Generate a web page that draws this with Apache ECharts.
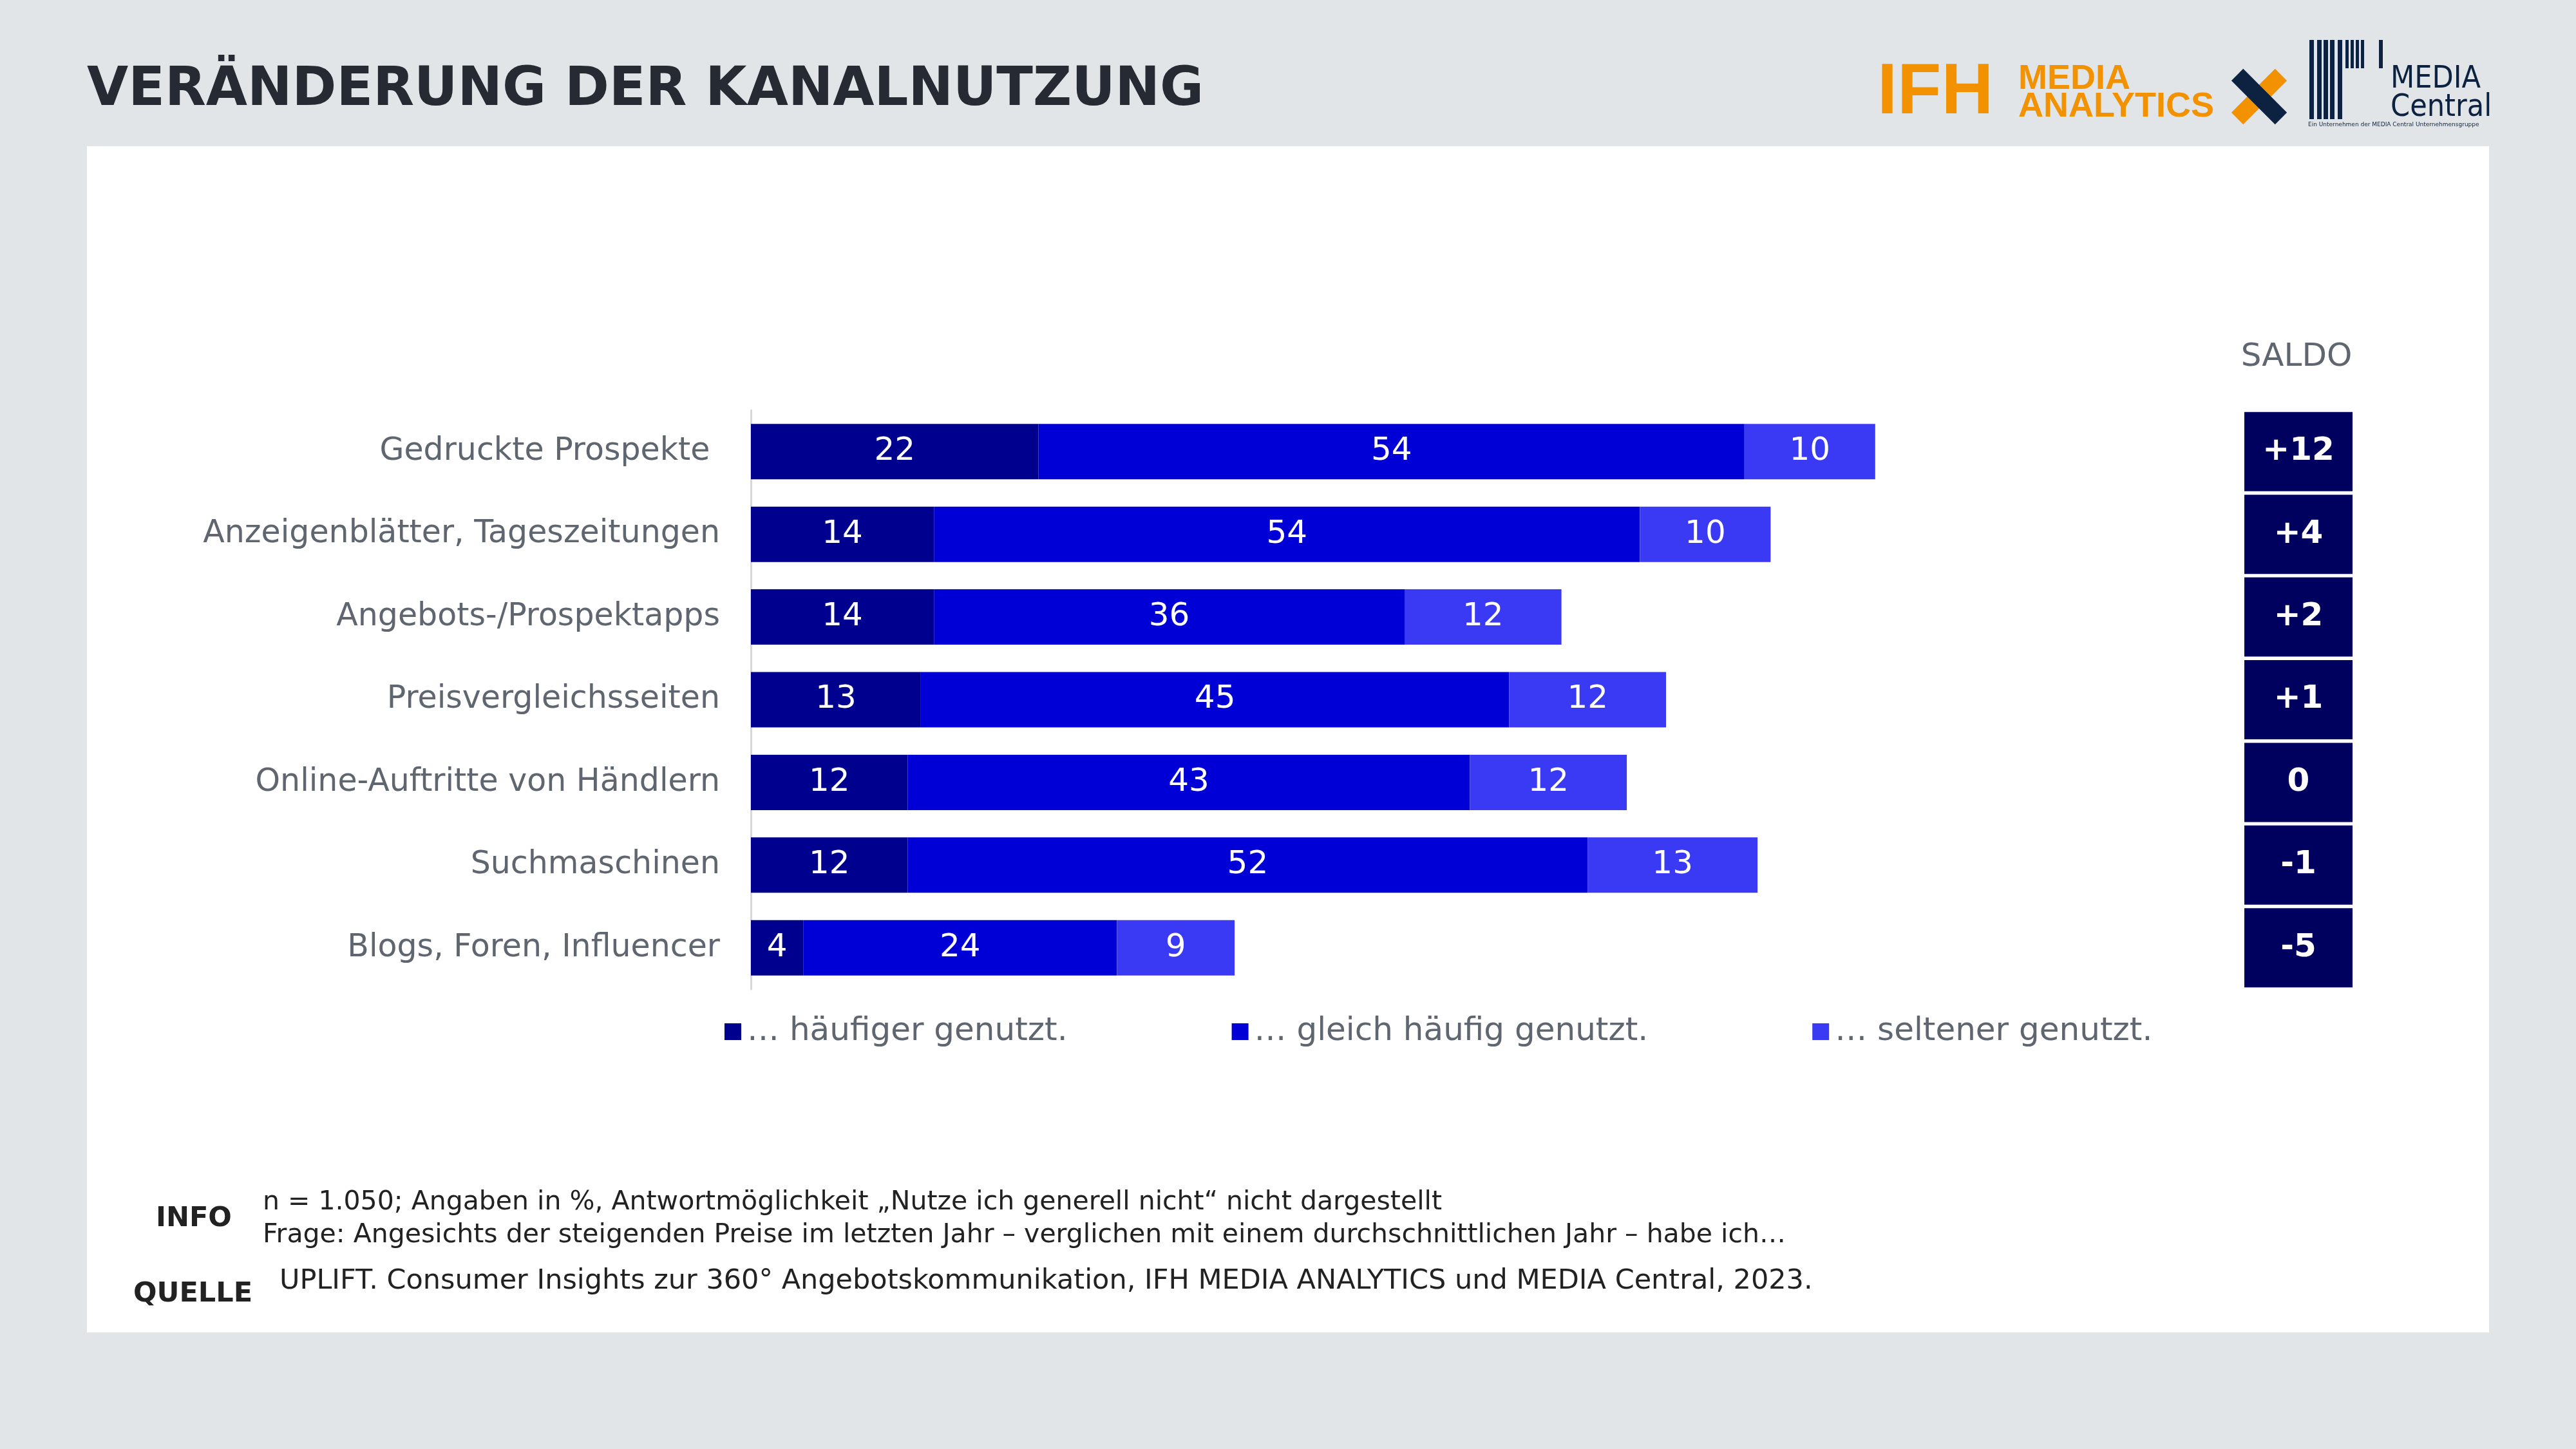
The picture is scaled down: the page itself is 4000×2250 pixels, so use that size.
<!DOCTYPE html>
<html><head><meta charset="utf-8">
<script src="https://cdn.jsdelivr.net/npm/echarts@6/dist/echarts.min.js"></script>
<style>html,body{margin:0;padding:0;background:#e1e5e8}#c{width:4000px;height:2250px}</style>
</head><body><div id="c"></div>
<script>
const categories = ['Gedruckte Prospekte ', 'Anzeigenblätter, Tageszeitungen', 'Angebots-/Prospektapps', 'Preisvergleichsseiten', 'Online-Auftritte von Händlern', 'Suchmaschinen', 'Blogs, Foren, Influencer'];
const haeufiger = [22, 14, 14, 13, 12, 12, 4];
const gleich = [54, 54, 36, 45, 43, 52, 24];
const seltener = [10, 10, 12, 12, 12, 13, 9];
const saldo = ['+12', '+4', '+2', '+1', '0', '-1', '-5'];
const legendNames = ['… häufiger genutzt.', '… gleich häufig genutzt.', '… seltener genutzt.'];
const colors = ['#00008f', '#0000d6', '#3a3af5'];

const font = 'DejaVu Sans, Verdana, sans-serif';
const chart = echarts.init(document.getElementById('c'));
const barLabel = { show: true, position: 'inside', color: '#fff', fontSize: 50, fontFamily: font };
const mk = (i, data) => ({
  name: legendNames[i], type: 'bar', stack: 'a', data, barWidth: 86,
  itemStyle: { color: colors[i] }, label: barLabel, xAxisIndex: 0, yAxisIndex: 0
});

chart.setOption({
  backgroundColor: '#e1e5e8',
  animation: false,
  grid: [
    { left: 1166, width: 2030, top: 637, height: 899 },
    { left: 3485, width: 168, top: 637, height: 899 }
  ],
  xAxis: [
    { type: 'value', min: 0, max: 100, show: false, gridIndex: 0 },
    { type: 'value', min: 0, max: 1, show: false, gridIndex: 1 }
  ],
  yAxis: [
    { type: 'category', data: categories, inverse: true, gridIndex: 0,
      axisLine: { show: true, lineStyle: { color: '#d8d8d8', width: 3 } }, axisTick: { show: false },
      axisLabel: { color: '#5f6670', fontSize: 49, fontFamily: font, margin: 48 } },
    { type: 'category', data: categories, inverse: true, gridIndex: 1, show: false }
  ],
  legend: {
    data: legendNames, left: 1120, top: 1572, itemGap: 255, itemWidth: 26, itemHeight: 26,
    icon: 'rect', textStyle: { color: '#5f6670', fontSize: 50, fontFamily: font, padding: [0, 0, 0, 4] }
  },
  series: [
    mk(0, haeufiger), mk(1, gleich), mk(2, seltener),
    { type: 'bar', xAxisIndex: 1, yAxisIndex: 1, barWidth: 123, silent: true,
      data: saldo.map(s => ({ value: 1, name: s })),
      itemStyle: { color: '#00005e' },
      label: { show: true, position: 'inside', formatter: p => p.name, color: '#fff',
        fontSize: 50, fontWeight: 'bold', fontFamily: font } }
  ],
  graphic: [
    { type: 'rect', z: -10, shape: { x: 135, y: 227, width: 3730, height: 1842 }, style: { fill: '#fff' } },
    { type: 'text', left: 135, top: 100, style: { text: 'VERÄNDERUNG DER KANALNUTZUNG', fill: '#262b33',
      fontSize: 83, fontWeight: 'bold', fontFamily: font } },
    { type: 'text', x: 3566, y: 555, style: { text: 'SALDO', fill: '#5f6670', fontSize: 50, fontFamily: font,
      align: 'center', verticalAlign: 'middle' } },
    // footer
    { type: 'text', x: 242, y: 1893, style: { text: 'INFO', fill: '#222', fontSize: 43, fontWeight: 'bold', fontFamily: font, verticalAlign: 'middle' } },
    { type: 'text', x: 408, y: 1867, style: { text: 'n = 1.050; Angaben in %, Antwortmöglichkeit „Nutze ich generell nicht“ nicht dargestellt', fill: '#222', fontSize: 41, fontFamily: font, verticalAlign: 'middle' } },
    { type: 'text', x: 408, y: 1918, style: { text: 'Frage: Angesichts der steigenden Preise im letzten Jahr – verglichen mit einem durchschnittlichen Jahr – habe ich…', fill: '#222', fontSize: 41, fontFamily: font, verticalAlign: 'middle' } },
    { type: 'text', x: 207, y: 2010, style: { text: 'QUELLE', fill: '#222', fontSize: 43, fontWeight: 'bold', fontFamily: font, verticalAlign: 'middle' } },
    { type: 'text', x: 434, y: 1990, style: { text: 'UPLIFT. Consumer Insights zur 360° Angebotskommunikation, IFH MEDIA ANALYTICS und MEDIA Central, 2023.', fill: '#222', fontSize: 43, fontFamily: font, verticalAlign: 'middle' } },
    // logo
    { type: 'text', x: 2915, y: 145, style: { text: 'IFH', fill: '#f39200', fontSize: 112, fontWeight: 'bold', fontFamily: 'Liberation Sans, sans-serif', verticalAlign: 'middle' } },
    { type: 'text', x: 3134, y: 123, style: { text: 'MEDIA', fill: '#f39200', fontSize: 54, fontWeight: 'bold', fontFamily: 'Liberation Sans, sans-serif', verticalAlign: 'middle' } },
    { type: 'text', x: 3134, y: 166, style: { text: 'ANALYTICS', fill: '#f39200', fontSize: 54, fontWeight: 'bold', fontFamily: 'Liberation Sans, sans-serif', verticalAlign: 'middle' } },
    { type: 'rect', x: 3508, y: 150, rotation: Math.PI / 4, shape: { x: -48, y: -13, width: 96, height: 26 }, style: { fill: '#f39200' } },
    { type: 'rect', x: 3508, y: 150, rotation: -Math.PI / 4, shape: { x: -48, y: -13, width: 96, height: 26 }, style: { fill: '#0d2240' } },
    ...[0, 12, 22, 32, 44].map(dx => ({ type: 'rect', shape: { x: 3586 + dx, y: 62, width: 7, height: 123 }, style: { fill: '#0d2240' } })),
    ...[56, 64, 72, 80].map(dx => ({ type: 'rect', shape: { x: 3586 + dx, y: 62, width: 5, height: 44 }, style: { fill: '#0d2240' } })),
    { type: 'rect', shape: { x: 3694, y: 62, width: 6, height: 44 }, style: { fill: '#0d2240' } },
    { type: 'text', x: 3712, y: 124, style: { text: 'MEDIA', fill: '#0d2240', fontSize: 48, fontFamily: 'DejaVu Sans Condensed, sans-serif', verticalAlign: 'middle' } },
    { type: 'text', x: 3712, y: 168, style: { text: 'Central', fill: '#0d2240', fontSize: 48, fontFamily: 'DejaVu Sans Condensed, sans-serif', verticalAlign: 'middle' } },
    { type: 'text', x: 3584, y: 194, style: { text: 'Ein Unternehmen der MEDIA Central Unternehmensgruppe', fill: '#0d2240', fontSize: 9, fontFamily: font, verticalAlign: 'middle' } }
  ]
});
</script></body></html>
